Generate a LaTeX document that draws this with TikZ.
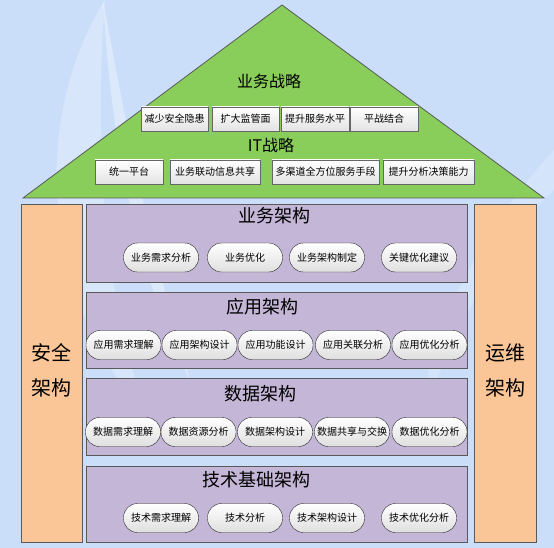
\documentclass[tikz,border=0pt]{standalone}
\usepackage{fontspec}
\setmainfont{Noto Sans CJK SC}
\usepackage{xcolor}
\usepackage{tikz}
\usetikzlibrary{positioning}

\definecolor{bgblue}{RGB}{202,222,250}
\definecolor{roofgreen}{RGB}{137,206,90}
\definecolor{panelpurple}{RGB}{196,182,214}
\definecolor{pillarorange}{RGB}{250,198,152}

\tikzset{
    stratbox/.style={draw=gray!80!black, top color=white, bottom color=gray!22, minimum height=24pt, inner sep=0pt, font=\fontsize{10}{12}\selectfont},
    pill/.style={draw=gray!30!black, rounded corners=14pt, top color=white, bottom color=gray!25, minimum height=29pt, minimum width=75pt, inner sep=0pt, font=\fontsize{10}{12}\selectfont},
    panel/.style={draw=gray!70!black, fill=panelpurple, line width=0.8pt},
    pillar/.style={draw=gray!70!black, fill=pillarorange, line width=0.8pt},
    paneltitle/.style={font=\fontsize{18}{20}\selectfont},
}

\begin{document}
\begin{tikzpicture}[x=1pt, y=-1pt]
    \useasboundingbox (0,0) rectangle (554,548);
    \fill[bgblue] (0,0) rectangle (554,548);
    \fill[white, opacity=0.25] (105,0) .. controls (30,120) and (40,300) .. (150,420) .. controls (100,300) and (95,120) .. (105,0); % swoosh
    \fill[white, opacity=0.35] (103,0) .. controls (110,120) and (130,260) .. (190,380) .. controls (150,250) and (125,120) .. (103,0);
    \fill[white, opacity=0.2] (554,150) .. controls (480,230) and (430,330) .. (420,420) .. controls (460,320) and (500,240) .. (554,190);

    % Roof
    \draw[fill=roofgreen, draw=gray!70!black, line width=0.8pt] (23,198) -- (282,5) -- (544,198) -- cycle;
    \node[font=\fontsize{16}{18}\selectfont] (bizstrat) at (269,81) {业务战略};
    \node[font=\fontsize{16}{18}\selectfont] (itstrat) at (271,145) {IT战略};

    \node[stratbox, minimum width=67pt] (s1) at (174.5,119) {减少安全隐患};
    \node[stratbox, minimum width=67pt] (s2) at (245.5,119) {扩大监管面};
    \node[stratbox, minimum width=68pt] (s3) at (315,119) {提升服务水平};
    \node[stratbox, minimum width=68pt] (s4) at (384,119) {平战结合};

    \node[stratbox, minimum width=68pt] (t1) at (129,172) {统一平台};
    \node[stratbox, minimum width=90pt] (t2) at (215,172) {业务联动信息共享};
    \node[stratbox, minimum width=107pt] (t3) at (325.5,172) {多渠道全方位服务手段};
    \node[stratbox, minimum width=91pt] (t4) at (428.5,172) {提升分析决策能力};

    % Pillars
    \draw[pillar] (21,204) rectangle (82,542);
    \draw[pillar] (474,204) rectangle (536,542);
    \node[align=center, font=\fontsize{20}{35}\selectfont] (safety) at (51,370.5) {安全\\架构};
    \node[align=center, font=\fontsize{20}{35}\selectfont] (ops) at (505,370.5) {运维\\架构};

    % Layers
    \draw[panel] (86,204) rectangle (467,282);
    \draw[panel] (86,292) rectangle (467,368);
    \draw[panel] (86,378) rectangle (467,455);
    \draw[panel] (86,466) rectangle (467,542);
    \node[paneltitle] (biz) at (274,216) {业务架构};
    \node[paneltitle] (app) at (262,307) {应用架构};
    \node[paneltitle] (data) at (260,394) {数据架构};
    \node[paneltitle] (tech) at (256,480) {技术基础架构};

    \foreach \t/\x [count=\i] in {业务需求分析/161, 业务优化/245, 业务架构制定/327, 关键优化建议/419}
        \node[pill] (b\i) at (\x,257.5) {\t};
    \foreach \t/\x [count=\i] in {应用需求理解/123.5, 应用架构设计/199.5, 应用功能设计/275.5, 应用关联分析/353, 应用优化分析/429.5}
        \node[pill] (a\i) at (\x,345) {\t};
    \foreach \t/\x [count=\i] in {数据需求理解/123, 数据资源分析/198.5, 数据架构设计/275, 数据共享与交换/352, 数据优化分析/429.5}
        \node[pill] (d\i) at (\x,432) {\t};
    \foreach \t/\x [count=\i] in {技术需求理解/161, 技术分析/245, 技术架构设计/327, 技术优化分析/419}
        \node[pill] (k\i) at (\x,518) {\t};
\end{tikzpicture}
\end{document}
